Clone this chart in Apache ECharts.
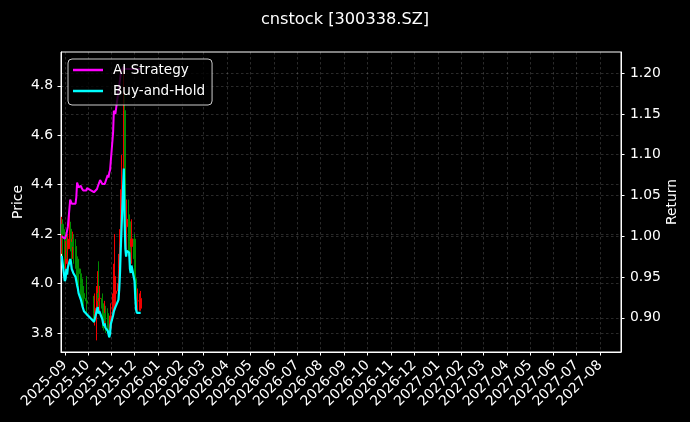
<!DOCTYPE html>
<html><head><meta charset="utf-8">
<script src="https://cdn.jsdelivr.net/npm/echarts@6/dist/echarts.min.js"></script>
<style>html,body{margin:0;padding:0;background:#000}#c{width:690px;height:422px}</style>
</head><body><div id="c"></div>
<script>
const dates = ['2025-08-28','2025-08-29',
'2025-09-01','2025-09-02','2025-09-03','2025-09-04','2025-09-05',
'2025-09-08','2025-09-09','2025-09-10','2025-09-11','2025-09-12',
'2025-09-15','2025-09-16','2025-09-17','2025-09-18','2025-09-19',
'2025-09-22','2025-09-23','2025-09-24','2025-09-25','2025-09-26',
'2025-09-29','2025-09-30',
'2025-10-09','2025-10-10',
'2025-10-13','2025-10-14','2025-10-15','2025-10-16','2025-10-17',
'2025-10-20','2025-10-21','2025-10-22','2025-10-23','2025-10-24',
'2025-10-27','2025-10-28','2025-10-29','2025-10-30','2025-10-31',
'2025-11-03','2025-11-04','2025-11-05','2025-11-06','2025-11-07',
'2025-11-10','2025-11-11','2025-11-12','2025-11-13','2025-11-14',
'2025-11-17','2025-11-18','2025-11-19','2025-11-20','2025-11-21',
'2025-11-24','2025-11-25','2025-11-26','2025-11-27','2025-11-28',
'2025-12-01','2025-12-02','2025-12-03','2025-12-04','2025-12-05',
'2025-12-08','2025-12-09'];
const openP = [4.16,4.24, 4.20,4.10,4.11,4.17,4.14, 4.18,4.22,4.20,4.17,4.18, 4.15,4.12,4.10,4.08,4.06, 4.04,4.00,3.98,3.97,3.96, 3.94,3.93, 3.92,3.88, 3.90,3.95,3.96,3.93,3.94, 3.94,3.90,3.88,3.86,3.88, 3.85,3.84,3.82,3.80,3.82, 3.87,3.92,3.94,3.95,3.96, 3.97,4.00,4.06,4.15,4.28, 4.40,4.70,4.43,4.28,4.23, 4.26,4.25,4.17,4.15,4.18, 4.18,4.10,4.02,3.95,3.93, 3.93,3.90];
const closeP = [4.24,4.20, 4.10,4.11,4.17,4.14,4.18, 4.22,4.20,4.17,4.18,4.15, 4.12,4.10,4.08,4.06,4.04, 4.00,3.98,3.97,3.96,3.94, 3.93,3.92, 3.88,3.90, 3.95,3.96,3.93,3.94,3.94, 3.90,3.88,3.86,3.88,3.85, 3.84,3.82,3.80,3.82,3.87, 3.92,3.94,3.95,3.96,3.97, 4.00,4.06,4.15,4.28,4.38, 4.70,4.43,4.28,4.23,4.26, 4.25,4.17,4.15,4.18,4.18, 4.10,4.02,3.95,3.93,3.93, 3.93,3.94];
const lowP = [4.12,4.10, 4.06,4.02,4.08,4.10,4.07, 4.14,4.13,4.09,4.10,4.08, 4.06,4.04,4.02,4.00,3.98, 3.95,3.92,3.90,3.91,3.89, 3.88,3.87, 3.84,3.83, 3.77,3.88,3.89,3.88,3.89, 3.85,3.82,3.81,3.82,3.80, 3.80,3.79,3.78,3.79,3.81, 3.85,3.88,3.90,3.91,3.92, 3.94,3.98,4.03,4.12,4.22, 4.35,4.38,4.20,4.15,4.12, 4.11,4.10,4.06,4.08,4.10, 4.05,3.97,3.92,3.90,3.89, 3.89,3.89];
const highP = [4.27,4.26, 4.22,4.15,4.21,4.19,4.20, 4.28,4.25,4.22,4.21,4.20, 4.18,4.15,4.13,4.11,4.10, 4.06,4.03,4.02,4.01,3.99, 4.03,3.97, 3.95,3.96, 3.99,4.05,4.09,3.99,3.98, 3.96,3.93,3.92,3.93,3.91, 3.90,3.88,3.86,3.87,3.92, 3.96,4.08,4.20,4.03,4.02, 4.06,4.12,4.22,4.36,4.52, 4.88,4.78,4.50,4.33,4.34, 4.34,4.28,4.22,4.26,4.24, 4.20,4.12,4.05,3.99,3.98, 3.96,3.97];
const aiStrategy = [1.000,1.001, 0.997,0.996,1.002,1.000,1.012, 1.045,1.047,1.040,1.041,1.040, 1.040,1.048,1.066,1.064,1.060, 1.062,1.059,1.058,1.056,1.058, 1.056,1.059, 1.054,1.055, 1.058,1.061,1.060,1.066,1.069, 1.064,1.062,1.066,1.064,1.063, 1.075,1.072,1.078,1.081,1.080, 1.127,1.154,1.152,1.150,1.152, 1.178,1.185,1.192,1.200,1.203, 1.208,1.205,1.205,1.205,1.205, 1.205,1.205,1.205,1.205,1.205, 1.205,1.205,1.205,1.205,1.205, 1.205,1.205];
const buyHold = [0.976,0.968, 0.945,0.948,0.960,0.953,0.962, 0.972,0.968,0.960,0.962,0.955, 0.950,0.945,0.940,0.936,0.930, 0.922,0.918,0.914,0.912,0.908, 0.905,0.903, 0.895,0.898, 0.910,0.913,0.905,0.908,0.907, 0.898,0.893,0.890,0.893,0.888, 0.884,0.880,0.876,0.880,0.892, 0.903,0.908,0.910,0.913,0.915, 0.922,0.935,0.955,0.985,1.010, 1.083,1.020,0.985,0.975,0.982, 0.980,0.960,0.955,0.964,0.962, 0.945,0.925,0.910,0.906,0.905, 0.906,0.906];
const monthTicks = ['2025-09','2025-10','2025-11','2025-12','2026-01','2026-02','2026-03','2026-04','2026-05','2026-06','2026-07','2026-08','2026-09','2026-10','2026-11','2026-12','2027-01','2027-02','2027-03','2027-04','2027-05','2027-06','2027-07','2027-08'];
const priceTicks = [3.8,4.0,4.2,4.4,4.6,4.8];
const returnTicks = [0.90,0.95,1.00,1.05,1.10,1.15,1.20];

const FONT = 'DejaVu Sans';
const FS = 13.9;
const ts = s => new Date(s + 'T00:00:00').getTime();
const chart = echarts.init(document.getElementById('c'));
const monthVals = monthTicks.map(m => ts(m + '-01'));
const pad = n => (n < 10 ? '0' : '') + n;
const gridLine = { show: true, lineStyle: { color: 'rgba(255,255,255,0.28)', type: [2.5, 2.5], width: 0.6 } };
const axisLineW = { show: true, lineStyle: { color: '#fff', width: 1 } };

chart.setOption({
  backgroundColor: '#000',
  animation: false,
  textStyle: { fontFamily: FONT },
  title: {
    text: 'cnstock [300338.SZ]', left: 'center', top: 7,
    textStyle: { color: '#fff', fontSize: 16.2, fontWeight: 'normal', fontFamily: FONT }
  },
  legend: {
    left: 68, top: 59, orient: 'vertical',
    data: [{ name: 'AI Strategy', icon: 'rect' }, { name: 'Buy-and-Hold', icon: 'rect' }],
    itemWidth: 30, itemHeight: 2.5, itemGap: 5,
    padding: [3, 7, 6, 5],
    backgroundColor: 'rgba(0,0,0,0.8)', borderColor: '#cccccc', borderWidth: 1, borderRadius: 4,
    textStyle: { color: '#fff', fontSize: 13.6, fontFamily: FONT, lineHeight: 16, padding: [0, 0, 0, 5] }
  },
  grid: { left: 61, right: 69, top: 52, bottom: 70, outerBoundsMode: 'none', containLabel: false, show: true, borderColor: '#fff', borderWidth: 1, backgroundColor: 'transparent' },
  xAxis: {
    type: 'value', min: ts('2025-08-27'), max: ts('2027-08-28'), scale: true,
    axisLine: axisLineW,
    axisTick: { show: true, customValues: monthVals, length: 3.5, lineStyle: { color: '#fff' } },
    axisLabel: {
      customValues: monthVals, rotate: 45, color: '#fff', fontSize: FS, fontFamily: FONT, margin: 11,
      formatter: v => { const d = new Date(v); return d.getFullYear() + '-' + pad(d.getMonth() + 1); }
    },
    splitLine: gridLine
  },
  yAxis: [{
    type: 'value', position: 'left', min: 3.723, max: 4.937,
    name: 'Price', nameLocation: 'middle', nameGap: 36, nameRotate: 90, nameMoveOverlap: false,
    nameTextStyle: { color: '#fff', fontSize: FS, fontFamily: FONT },
    axisLine: axisLineW,
    axisTick: { show: true, customValues: priceTicks, length: 3.5, lineStyle: { color: '#fff' } },
    axisLabel: { customValues: priceTicks, color: '#fff', fontSize: FS, fontFamily: FONT, margin: 8, formatter: v => v.toFixed(1) },
    splitLine: gridLine
  }, {
    type: 'value', position: 'right', min: 0.858, max: 1.226,
    name: 'Return', nameLocation: 'middle', nameGap: 44, nameRotate: 90, nameMoveOverlap: false,
    nameTextStyle: { color: '#fff', fontSize: FS, fontFamily: FONT },
    axisLine: axisLineW,
    axisTick: { show: true, customValues: returnTicks, length: 3.5, lineStyle: { color: '#fff' } },
    axisLabel: { customValues: returnTicks, color: '#fff', fontSize: FS, fontFamily: FONT, margin: 9, formatter: v => v.toFixed(2) },
    splitLine: gridLine
  }],
  series: [{
    type: 'candlestick', name: 'Price', yAxisIndex: 0, barWidth: 1.6,
    encode: { x: 0, y: [1, 2, 3, 4] },
    data: dates.map((d, i) => [ts(d), openP[i], closeP[i], lowP[i], highP[i]]),
    itemStyle: { color: '#f00000', color0: '#008a00', borderColor: '#f00000', borderColor0: '#008a00', borderWidth: 1 }
  }, {
    type: 'line', name: 'AI Strategy', yAxisIndex: 1, showSymbol: false, symbol: 'none',
    data: dates.map((d, i) => [ts(d), aiStrategy[i]]),
    lineStyle: { color: '#ff00ff', width: 2 }, itemStyle: { color: '#ff00ff' }
  }, {
    type: 'line', name: 'Buy-and-Hold', yAxisIndex: 1, showSymbol: false, symbol: 'none',
    data: dates.map((d, i) => [ts(d), buyHold[i]]),
    lineStyle: { color: '#00ffff', width: 2.2 }, itemStyle: { color: '#00ffff' }
  }]
});
</script>
</body></html>
